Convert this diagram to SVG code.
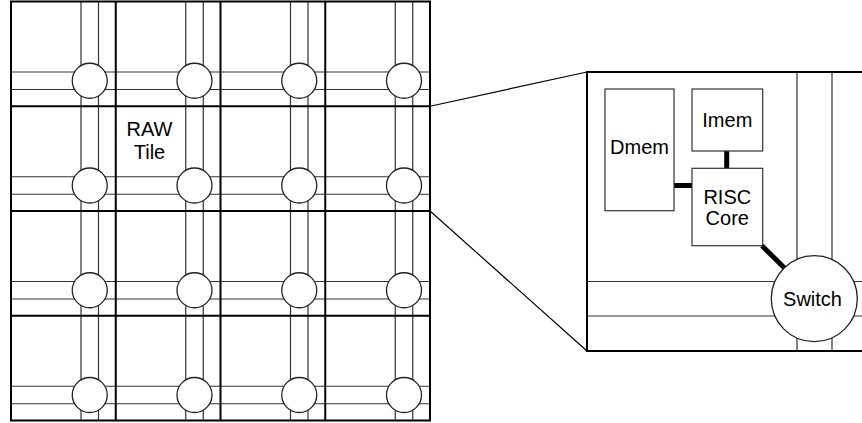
<svg xmlns="http://www.w3.org/2000/svg" width="862" height="423" viewBox="0 0 862 423">
<style>
.cell{fill:none;stroke:#000;stroke-width:2}
.ch{stroke:#333;stroke-width:1.2;fill:none}
.sw{fill:#fff;stroke:#222;stroke-width:1.3}
.box{fill:#fff;stroke:#333;stroke-width:1.2}
.thick{stroke:#000;stroke-width:5;fill:none}
.zoom{stroke:#000;stroke-width:1.2;fill:none}
.t{font-family:"Liberation Sans",Arial,Helvetica,sans-serif;font-size:20px;fill:#000;text-anchor:middle}
</style>
<rect width="862" height="423" fill="#fff"/>
<g id="grid">
  <g id="channels">
    <path class="ch" d="M81 1.5V420.5M98.5 1.5V420.5M185.75 1.5V420.5M203.25 1.5V420.5M290.5 1.5V420.5M308 1.5V420.5M395.25 1.5V420.5M412.75 1.5V420.5"/>
    <path class="ch" d="M11 72H430M11 89.5H430M11 176.75H430M11 194.25H430M11 281.5H430M11 299H430M11 386.25H430M11 403.75H430"/>
  </g>
  <path class="cell" d="M115.75 1.5V420.5M220.5 1.5V420.5M325.25 1.5V420.5M11 106.25H430M11 211H430M11 315.75H430"/>
  <rect class="cell" x="11" y="1.5" width="419" height="419"/>
</g>
<g id="switches">
  <g id="sw00"><circle class="sw" cx="89.75" cy="80.75" r="17.5"/></g>
  <g id="sw10"><circle class="sw" cx="194.5" cy="80.75" r="17.5"/></g>
  <g id="sw20"><circle class="sw" cx="299.25" cy="80.75" r="17.5"/></g>
  <g id="sw30"><circle class="sw" cx="404" cy="80.75" r="17.5"/></g>
  <g id="sw01"><circle class="sw" cx="89.75" cy="185.5" r="17.5"/></g>
  <g id="sw11"><circle class="sw" cx="194.5" cy="185.5" r="17.5"/></g>
  <g id="sw21"><circle class="sw" cx="299.25" cy="185.5" r="17.5"/></g>
  <g id="sw31"><circle class="sw" cx="404" cy="185.5" r="17.5"/></g>
  <g id="sw02"><circle class="sw" cx="89.75" cy="290.25" r="17.5"/></g>
  <g id="sw12"><circle class="sw" cx="194.5" cy="290.25" r="17.5"/></g>
  <g id="sw22"><circle class="sw" cx="299.25" cy="290.25" r="17.5"/></g>
  <g id="sw32"><circle class="sw" cx="404" cy="290.25" r="17.5"/></g>
  <g id="sw03"><circle class="sw" cx="89.75" cy="395" r="17.5"/></g>
  <g id="sw13"><circle class="sw" cx="194.5" cy="395" r="17.5"/></g>
  <g id="sw23"><circle class="sw" cx="299.25" cy="395" r="17.5"/></g>
  <g id="sw33"><circle class="sw" cx="404" cy="395" r="17.5"/></g>
</g>
<g id="rawtile-label">
  <text class="t" x="149.5" y="136">RAW</text>
  <text class="t" x="149.5" y="158.5">Tile</text>
</g>
<g id="inset">
  <path class="ch" d="M797 72V351M832 72V351M587 281.5H862M587 316H862"/>
  <path class="cell" d="M862 72H587V351H862"/>
</g>
<g id="connectors">
  <path class="zoom" d="M430 106.25L587 72M430 211L587 351"/>
  <path class="thick" d="M726.7 151V168.3M674 185.5H692M762 245.7L785 268.5"/>
</g>
<g id="dmem">
  <rect class="box" x="605" y="89" width="69" height="121.7"/>
  <text class="t" x="639.5" y="154">Dmem</text>
</g>
<g id="imem">
  <rect class="box" x="692" y="89" width="70.7" height="62"/>
  <text class="t" x="727.3" y="126.5">Imem</text>
</g>
<g id="risc">
  <rect class="box" x="692" y="168.3" width="70.7" height="77.4"/>
  <text class="t" x="727.3" y="203.5">RISC</text>
  <text class="t" x="727.3" y="225">Core</text>
</g>
<g id="switch">
  <circle class="sw" cx="814.3" cy="298.7" r="43"/>
  <text class="t" x="812.5" y="305.5">Switch</text>
</g>
</svg>
